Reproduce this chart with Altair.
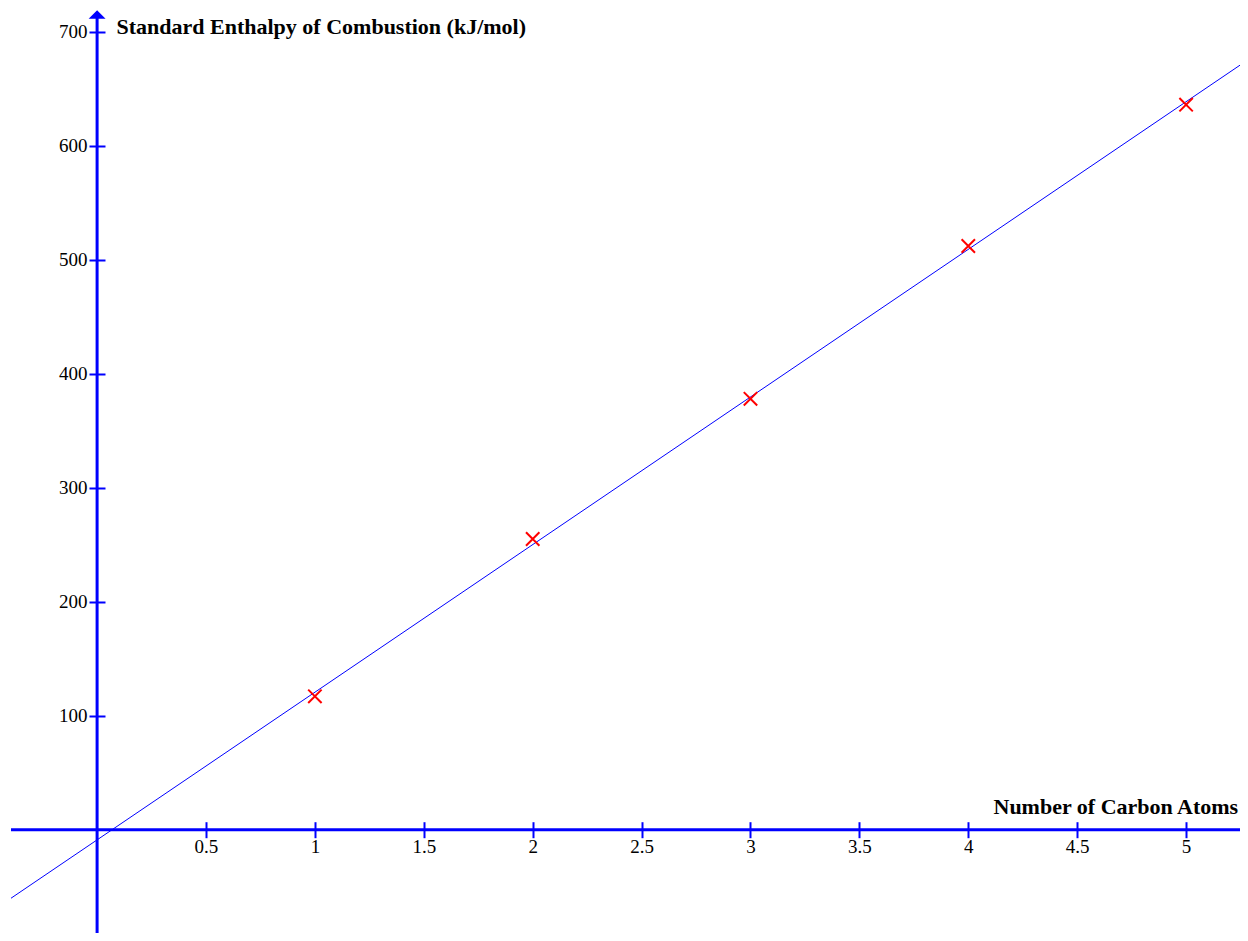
import altair as alt
import pandas as pd

# data
carbons = [1, 2, 3, 4, 5]
enthalpy = [117, 255, 378, 512, 636]

x_ticks = [0.5, 1, 1.5, 2, 2.5, 3, 3.5, 4, 4.5, 5]
y_ticks = [100, 200, 300, 400, 500, 600, 700]

x_domain = [-0.3953, 5.2475]
y_domain = [-90.6, 720.8]
fit_extent = [-0.3953, 5.3]

df = pd.DataFrame({"carbons": carbons, "enthalpy": enthalpy})

W, H = 1229, 925
FONT = "Liberation Serif"
BLUE = "#0000ff"

x_enc = alt.X(
    "carbons:Q",
    scale=alt.Scale(domain=x_domain, nice=False, zero=False),
    axis=alt.Axis(
        values=x_ticks, format="~g", domain=False, grid=False,
        offset=-111.3, tickSize=16, tickWidth=2, tickColor=BLUE,
        labelFont=FONT, labelFontSize=19, labelColor="black", labelPadding=0,
        labelFlush=False, labelOverlap=False,
        title="Number of Carbon Atoms", titleFont=FONT, titleFontSize=22,
        titleFontWeight="bold", titleColor="black", titleAnchor="start",
        titleAlign="left", titleBaseline="middle", titleX=982, titleY=-15.7,
    ),
)
y_enc = alt.Y(
    "enthalpy:Q",
    scale=alt.Scale(domain=y_domain, nice=False, zero=False),
    axis=alt.Axis(
        values=y_ticks, format="d", domain=False, grid=False,
        offset=-94, tickSize=16, tickWidth=2, tickColor=BLUE,
        labelFont=FONT, labelFontSize=19, labelColor="black", labelPadding=2,
        labelFlush=False, labelOverlap=False,
        title="Standard Enthalpy of Combustion (kJ/mol)", titleFont=FONT,
        titleFontSize=22, titleFontWeight="bold", titleColor="black",
        titleAngle=0, titleAlign="left", titleBaseline="middle",
        titleX=11, titleY=18,
    ),
)

one = alt.Data(values=[{"k": 0}])

h_axis = alt.Chart(one).mark_rule(color=BLUE, strokeWidth=3).encode(
    y=alt.datum(0)
)
v_axis = alt.Chart(one).mark_rule(color=BLUE, strokeWidth=3).encode(
    x=alt.datum(0), y=alt.value(10), y2=alt.value(H)
)
arrow = alt.Chart(one).mark_point(
    shape="M0,-0.5L1,0.5L-1,0.5Z", filled=True, color=BLUE, opacity=1, size=289
).encode(x=alt.datum(0), y=alt.value(6.4))

fit = (
    alt.Chart(df)
    .transform_regression("carbons", "enthalpy", extent=fit_extent)
    .mark_line(color=BLUE, strokeWidth=1, clip=True)
    .encode(x=x_enc, y=y_enc)
)
pts = (
    alt.Chart(df)
    .mark_point(
        shape="M-1,-1L1,1M1,-1L-1,1", filled=False, color="#ff0000",
        strokeWidth=2, size=180, opacity=1,
    )
    .encode(x=x_enc, y=y_enc)
)

chart = (
    alt.layer(fit, h_axis, v_axis, arrow, pts)
    .properties(
        width=W, height=H, autosize="none",
        padding={"left": 3, "top": 0, "right": 0, "bottom": 0},
        background="white",
    )
    .configure_view(stroke=None)
)

chart.save("out.html", embed_options={"renderer": "svg", "actions": False})
